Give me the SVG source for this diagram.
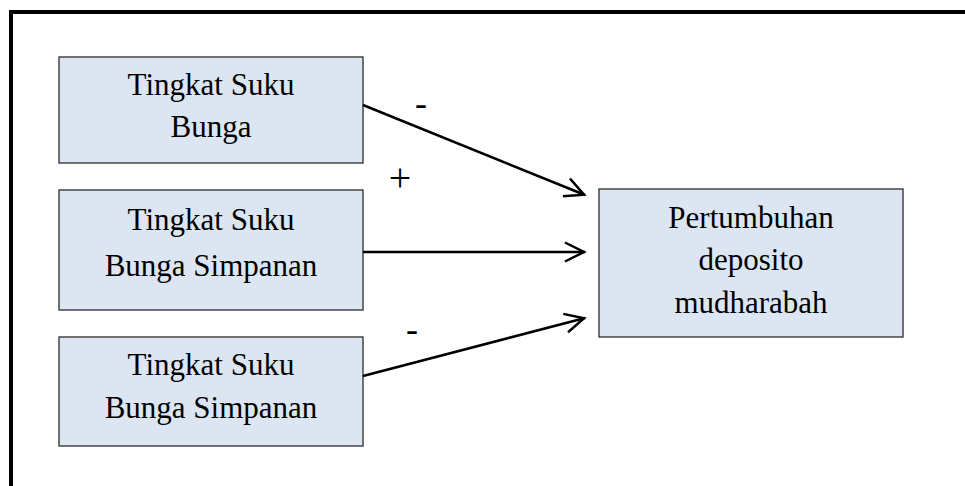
<svg xmlns="http://www.w3.org/2000/svg" width="965" height="486" viewBox="0 0 965 486">
<style>
.box{fill:#dce6f2;stroke:#2b2b2b;stroke-width:1.3}
.t{font-family:"Liberation Serif","Times New Roman",serif;font-size:31px;fill:#000;text-anchor:middle}
.s{font-family:"Liberation Serif","Times New Roman",serif;fill:#000;text-anchor:middle}
.c{stroke:#000;stroke-width:2.5;fill:none;marker-end:url(#ah)}
</style>
<defs>
<marker id="ah" markerUnits="userSpaceOnUse" markerWidth="30" markerHeight="30" refX="22" refY="11" orient="auto">
<path d="M2,1.5 L21,11 L2,20.5" fill="none" stroke="#000" stroke-width="2.5"/>
</marker>
</defs>
<rect width="965" height="486" fill="#fff"/>
<path d="M11,486 V12 H965" fill="none" stroke="#000" stroke-width="4"/>
<g id="n1">
<rect class="box" x="59" y="57" width="304" height="106"/>
<text class="t" x="211" y="95">Tingkat Suku</text>
<text class="t" x="211" y="137">Bunga</text>
</g>
<g id="n2">
<rect class="box" x="59" y="190" width="304" height="120"/>
<text class="t" x="211" y="230">Tingkat Suku</text>
<text class="t" x="211" y="276">Bunga Simpanan</text>
</g>
<g id="n3">
<rect class="box" x="59" y="337" width="304" height="109"/>
<text class="t" x="211" y="375">Tingkat Suku</text>
<text class="t" x="211" y="418">Bunga Simpanan</text>
</g>
<g id="n4">
<rect class="box" x="599" y="189" width="304" height="148"/>
<text class="t" x="751" y="228">Pertumbuhan</text>
<text class="t" x="751" y="270">deposito</text>
<text class="t" x="751" y="313">mudharabah</text>
</g>
<g id="connectors">
<line class="c" x1="363" y1="105" x2="585" y2="195"/>
<line class="c" x1="363" y1="252" x2="585" y2="252"/>
<line class="c" x1="363" y1="376" x2="585" y2="318"/>
<text class="s" x="421" y="115" font-size="36">-</text>
<text class="s" x="400" y="191" font-size="40">+</text>
<text class="s" x="412" y="341" font-size="36">-</text>
</g>
</svg>
